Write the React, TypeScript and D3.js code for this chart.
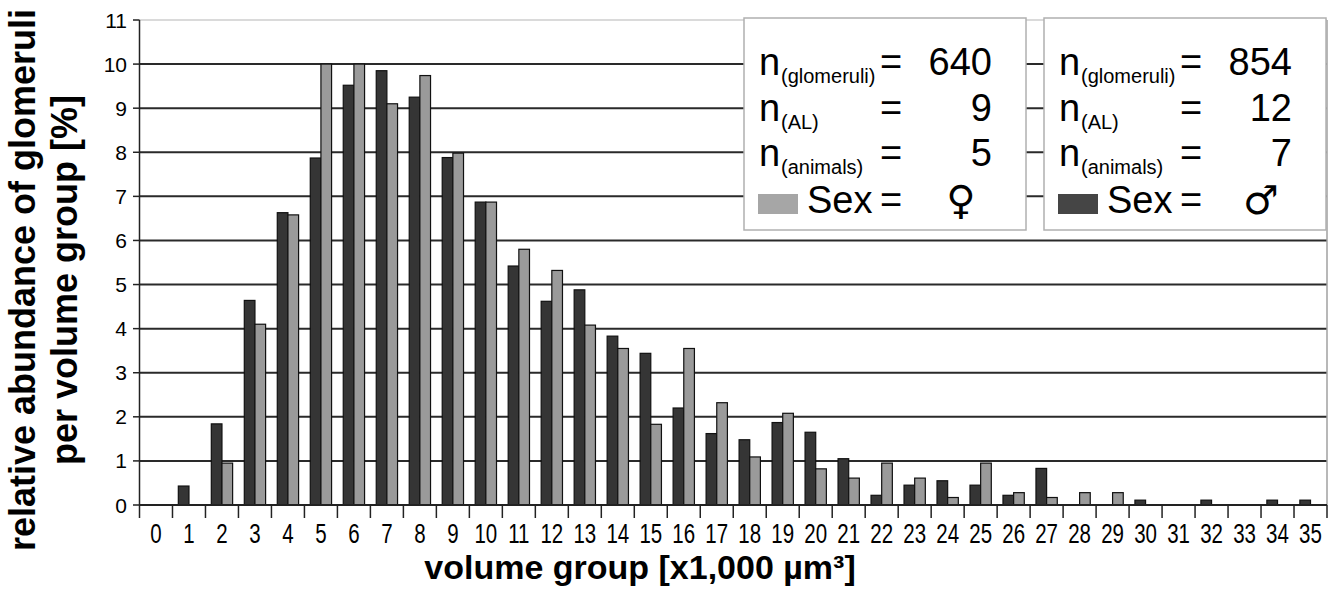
import React from 'react';
import * as d3 from 'd3';

// volume groups (x1,000 µm³)
const categories = ['0','1','2','3','4','5','6','7','8','9','10','11','12','13','14','15','16','17',
  '18','19','20','21','22','23','24','25','26','27','28','29','30','31','32','33','34','35'];

// relative abundance [%] per volume group
const male = [0, 0.43, 1.84, 4.64, 6.63, 7.87, 9.52, 9.85, 9.25, 7.88, 6.87, 5.42, 4.62, 4.88, 3.83, 3.44,
  2.2, 1.62, 1.48, 1.87, 1.65, 1.05, 0.22, 0.45, 0.55, 0.45, 0.22, 0.83, 0, 0, 0.11, 0, 0.11, 0, 0.11, 0.11];
const female = [0, 0, 0.95, 4.1, 6.58, 10, 10, 9.1, 9.74, 7.98, 6.87, 5.8, 5.32, 4.08, 3.55, 1.83,
  3.55, 2.32, 1.09, 2.08, 0.82, 0.61, 0.95, 0.61, 0.17, 0.95, 0.28, 0.17, 0.28, 0.28, 0, 0, 0, 0, 0, 0];

const yTicks = [0, 1, 2, 3, 4, 5, 6, 7, 8, 9, 10, 11];

const legendFemale = { glomeruli: '640', al: '9', animals: '5', sex: '\u2640' };
const legendMale = { glomeruli: '854', al: '12', animals: '7', sex: '\u2642' };

const FONT = '"Liberation Sans", Arial, sans-serif';
const DARK = '#353535';
const GRAY = '#9a9a9a';

function Legend({ x0, info, swatch }: { x0: number; info: any; swatch: string }) {
  const rows = [
    { sub: '(glomeruli)', val: info.glomeruli, y: 75 },
    { sub: '(AL)', val: info.al, y: 121 },
    { sub: '(animals)', val: info.animals, y: 166 },
  ];
  return (
    <g fontFamily={FONT} fill="#000">
      <rect x={x0} y={18} width={282} height={212} fill="#fff" stroke="#b0b0b0" strokeWidth={1.5} />
      {rows.map(r => (
        <g key={r.sub}>
          <text x={x0 + 15} y={r.y} fontSize={38}>n</text>
          <text x={x0 + 37} y={r.y + 8} fontSize={20}>{r.sub}</text>
          <text x={x0 + 136} y={r.y} fontSize={38}>=</text>
          <text x={x0 + 248} y={r.y} fontSize={38} textAnchor="end">{r.val}</text>
        </g>
      ))}
      <rect x={x0 + 14} y={194} width={40} height={20} fill={swatch} />
      <text x={x0 + 63} y={213} fontSize={38}>Sex</text>
      <text x={x0 + 136} y={213} fontSize={38}>=</text>
      <text x={x0 + 217} y={214} fontSize={40} textAnchor="middle" fontFamily="'DejaVu Sans'">{info.sex}</text>
    </g>
  );
}

export default function App() {
  const left = 139.5, right = 1327, top = 20, bottom = 505;

  const x = d3.scaleBand<string>().domain(categories).range([left, right]).padding(0);
  const y = d3.scaleLinear().domain([0, 11]).range([bottom, top]);
  const bw = x.bandwidth() * 0.323;

  return (
    <svg width={1340} height={590} style={{ display: 'block', position: 'absolute', left: 0, top: 0 }}>
      <rect width={1340} height={590} fill="#fff" />

      {/* grid */}
      {yTicks.filter(t => t > 0).map(t => (
        <line key={t} x1={left} x2={right} y1={y(t)} y2={y(t)}
          stroke={t === 11 ? '#b5b5b5' : '#2a2a2a'} strokeWidth={t === 11 ? 1.2 : 2} />
      ))}
      <line x1={right} x2={right} y1={top} y2={bottom} stroke="#a0a0a0" strokeWidth={1.5} />

      {/* bars */}
      {categories.map((c, i) => {
        const cx = x(c)! + x.bandwidth() / 2;
        return (
          <g key={c}>
            {male[i] > 0 && (
              <rect x={cx - bw} y={y(male[i])} width={bw} height={y(0) - y(male[i])}
                fill={DARK} stroke="#111" strokeWidth={1.2} />
            )}
            {female[i] > 0 && (
              <rect x={cx} y={y(female[i])} width={bw} height={y(0) - y(female[i])}
                fill={GRAY} stroke="#111" strokeWidth={1.2} />
            )}
          </g>
        );
      })}

      {/* axes */}
      <line x1={left} x2={left} y1={top} y2={bottom} stroke="#222" strokeWidth={1.5} />
      <line x1={left} x2={right} y1={bottom} y2={bottom} stroke="#222" strokeWidth={2} />
      {yTicks.map(t => (
        <g key={t}>
          <line x1={133} x2={left} y1={y(t)} y2={y(t)} stroke="#222" strokeWidth={1.5} />
          <text x={127} y={y(t)} dy="0.36em" textAnchor="end" fontFamily={FONT} fontSize={21}>{t}</text>
        </g>
      ))}
      {categories.map(c => (
        <line key={'t' + c} x1={x(c)!} x2={x(c)!} y1={bottom} y2={518} stroke="#222" strokeWidth={1.5} />
      ))}
      <line x1={right} x2={right} y1={bottom} y2={518} stroke="#222" strokeWidth={1.5} />
      {categories.map(c => (
        <text key={'l' + c} transform={`translate(${x(c)! + x.bandwidth() / 2},543) scale(0.76,1)`}
          textAnchor="middle" fontFamily={FONT} fontSize={27}>{c}</text>
      ))}

      {/* axis titles */}
      <text x={640} y={579} textAnchor="middle" fontFamily={FONT} fontSize={34} fontWeight="bold">
        volume group [x1,000 µm³]
      </text>
      <g transform="translate(0,280) rotate(-90)" fontFamily={FONT} fontSize={36} fontWeight="bold">
        <text x={0} y={35} textAnchor="middle">relative abundance of glomeruli</text>
        <text x={0} y={77} textAnchor="middle">per volume group [%]</text>
      </g>

      <Legend x0={744} info={legendFemale} swatch="#a6a6a6" />
      <Legend x0={1044} info={legendMale} swatch="#454545" />
    </svg>
  );
}
